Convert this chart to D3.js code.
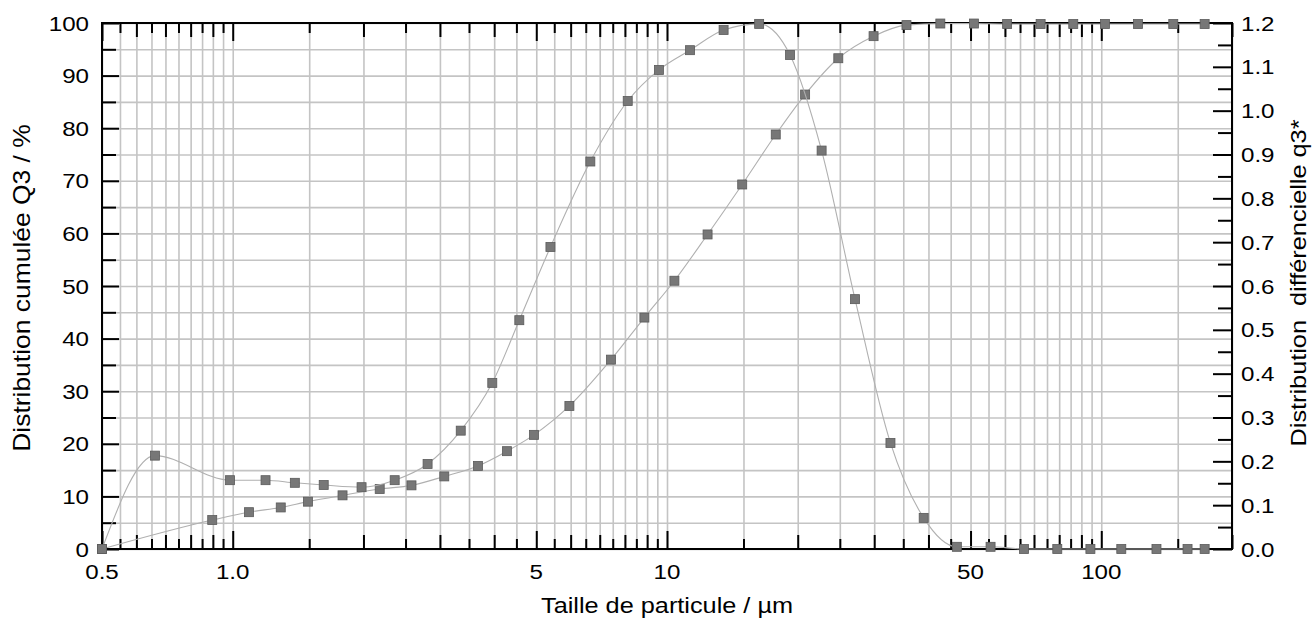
<!DOCTYPE html>
<html>
<head>
<meta charset="utf-8">
<script src="https://cdn.jsdelivr.net/npm/d3@7"></script>
<style>
  html, body { margin: 0; padding: 0; background: #fff; }
  svg { display: block; font-family: "Liberation Sans", Arial, sans-serif; }
</style>
</head>
<body>
<div id="chart"></div>
<script>
/* Particle size distribution — Q3 cumulative + q3* differential, D3 v7 */

// ── Data ────────────────────────────────────────────────────────────────────
var cumSize = [0.5, 0.897, 1.09, 1.29, 1.49, 1.79, 2.18, 2.58, 3.07, 3.67, 4.28, 4.94,
               5.96, 7.43, 8.87, 10.4, 12.4, 14.9, 17.8, 20.8, 24.8, 29.9, 35.6, 42.6,
               50.9, 60.7, 72.5, 86.2, 102, 121.5, 146.5, 173];
var cumQ3   = [0, 5.5, 7.0, 7.9, 9.0, 10.2, 11.4, 12.1, 13.8, 15.8, 18.6, 21.7,
               27.2, 36.0, 44.0, 51.0, 59.8, 69.3, 78.8, 86.4, 93.3, 97.5, 99.6, 99.9,
               99.9, 99.8, 99.8, 99.8, 99.8, 99.8, 99.8, 99.8];

var diffSize = [0.5, 0.662, 0.986, 1.19, 1.39, 1.62, 1.98, 2.36, 2.81, 3.35, 3.96, 4.57,
                5.39, 6.66, 8.12, 9.58, 11.3, 13.5, 16.3, 19.2, 22.7, 27.1, 32.7, 39.0,
                46.5, 55.6, 66.4, 79.2, 94.4, 111.2, 134, 158, 173];
var diffQ3   = [0, 0.213, 0.157, 0.157, 0.151, 0.146, 0.141, 0.157, 0.194, 0.270, 0.379, 0.522,
                0.689, 0.884, 1.022, 1.093, 1.138, 1.184, 1.198, 1.127, 0.909, 0.570, 0.242, 0.071,
                0.005, 0.005, 0, 0, 0, 0, 0, 0, 0];

var xLabelTicks = [0.5, 1, 5, 10, 50, 100];
var xLabelText  = ["0.5", "1.0", "5", "10", "50", "100"];
var yLeftTicks  = [0, 10, 20, 30, 40, 50, 60, 70, 80, 90, 100];
var yRightTicks = [0.0, 0.1, 0.2, 0.3, 0.4, 0.5, 0.6, 0.7, 0.8, 0.9, 1.0, 1.1, 1.2];

var xTitle  = "Taille de particule / µm";
var yLTitle = "Distribution cumulée Q3 / %";
var yRTitle = "Distribution  différencielle q3*";

(function () {
  "use strict";

  var W = 1314, H = 619;
  var margin = { top: 23, right: 82, bottom: 70, left: 102 };
  var iW = W - margin.left - margin.right;
  var iH = H - margin.top - margin.bottom;
  var STRETCH = 1.15;   // reference glyphs are a bit wide

  var svg = d3.select("#chart").append("svg").attr("width", W).attr("height", H);
  var g = svg.append("g").attr("transform", "translate(" + margin.left + "," + margin.top + ")");

  var x  = d3.scaleLog().domain([0.5, 200]).range([0, iW]);
  var yL = d3.scaleLinear().domain([0, 100]).range([iH, 0]);
  var yR = d3.scaleLinear().domain([0, 1.2]).range([iH, 0]);

  // ── Minor x ticks: half steps in every decade ────────────────────────────
  var xAll = [], xHalf = [], xWhole = [], seen = {};
  [0.1, 1, 10, 100].forEach(function (p) {
    for (var j = 2; j <= 20; j++) {
      var v = +(j / 2 * p).toPrecision(6);
      if (v < 0.5 || v > 200 || seen[v]) continue;
      seen[v] = true;
      xAll.push(v);
      if (xLabelTicks.indexOf(v) >= 0) continue;
      (j % 2 === 0 ? xWhole : xHalf).push(v);
    }
  });
  var yMinorL = d3.range(5, 100, 10);
  var yMinorR = d3.range(0.05, 1.2, 0.1);

  // ── Grid ────────────────────────────────────────────────────────────────
  function styleGrid(sel) {
    sel.select(".domain").remove();
    sel.selectAll("line").attr("stroke", "#c4c4c4").attr("stroke-width", 1.6);
  }
  g.append("g").attr("transform", "translate(0," + iH + ")")
    .call(d3.axisBottom(x).tickValues(xAll).tickSize(-iH).tickFormat(""))
    .call(styleGrid);
  g.append("g")
    .call(d3.axisLeft(yL).tickValues(d3.range(0, 101, 5)).tickSize(-iW).tickFormat(""))
    .call(styleGrid);

  // ── Ticks (all inward) ──────────────────────────────────────────────────
  function styleTicks(sel) {
    sel.select(".domain").remove();
    sel.selectAll("line").attr("stroke", "#000").attr("stroke-width", 2);
  }
  [[xHalf, 10], [xWhole, 14], [xLabelTicks, 18]].forEach(function (t) {
    g.append("g").attr("transform", "translate(0," + iH + ")")
      .call(d3.axisBottom(x).tickValues(t[0]).tickSize(-t[1]).tickFormat(""))
      .call(styleTicks);
    g.append("g")
      .call(d3.axisTop(x).tickValues(t[0]).tickSize(-t[1]).tickFormat(""))
      .call(styleTicks);
  });
  g.append("g").call(d3.axisLeft(yL).tickValues(yLeftTicks).tickSize(-17).tickFormat("")).call(styleTicks);
  g.append("g").call(d3.axisLeft(yL).tickValues(yMinorL).tickSize(-14).tickFormat("")).call(styleTicks);
  g.append("g").attr("transform", "translate(" + iW + ",0)")
    .call(d3.axisRight(yR).tickValues(yRightTicks).tickSize(-19).tickFormat("")).call(styleTicks);
  g.append("g").attr("transform", "translate(" + iW + ",0)")
    .call(d3.axisRight(yR).tickValues(yMinorR).tickSize(-14).tickFormat("")).call(styleTicks);

  g.append("rect").attr("width", iW).attr("height", iH)
    .attr("fill", "none").attr("stroke", "#000").attr("stroke-width", 2);

  // ── Tick labels ─────────────────────────────────────────────────────────
  // stretch is applied in glyph space so rotated titles widen along their length
  function stretched(tx, ty, rot) {
    return "translate(" + tx + "," + ty + ")" + (rot ? " rotate(" + rot + ")" : "") +
           " scale(" + STRETCH + ",1)";
  }
  g.selectAll(".xl").data(xLabelTicks).enter().append("text")
    .attr("transform", function (d) { return stretched(x(d), iH + 30); })
    .attr("text-anchor", "middle").style("font-size", "21px").attr("fill", "#000")
    .text(function (d, i) { return xLabelText[i]; });

  g.selectAll(".yl").data(yLeftTicks).enter().append("text")
    .attr("transform", function (d) { return stretched(-13, yL(d) + 7.5); })
    .attr("text-anchor", "end").style("font-size", "21px").attr("fill", "#000")
    .text(function (d) { return d; });

  g.selectAll(".yr").data(yRightTicks).enter().append("text")
    .attr("transform", function (d) { return stretched(iW + 9, yR(d) + 7.5); })
    .attr("text-anchor", "start").style("font-size", "21px").attr("fill", "#000")
    .text(function (d) { return d3.format(".1f")(d); });

  // ── Axis titles ─────────────────────────────────────────────────────────
  g.append("text").attr("transform", stretched(iW / 2, iH + 64))
    .attr("text-anchor", "middle").style("font-size", "22px").text(xTitle);
  g.append("text").attr("transform", stretched(-72, iH / 2 + 2, -90))
    .attr("text-anchor", "middle").style("font-size", "23px").text(yLTitle);
  g.append("text").attr("transform", stretched(iW + 74, iH / 2 - 3, -90))
    .attr("text-anchor", "middle").style("font-size", "22px")
    .style("white-space", "pre").text(yRTitle);

  // ── Curves + markers ────────────────────────────────────────────────────
  var cumData  = cumSize.map(function (s, i) { return { s: s, v: cumQ3[i] }; });
  var diffData = diffSize.map(function (s, i) { return { s: s, v: diffQ3[i] }; });

  function drawSeries(data, ys) {
    g.append("path").datum(data)
      .attr("fill", "none").attr("stroke", "#b0b0b0").attr("stroke-width", 1.1)
      .attr("d", d3.line().curve(d3.curveMonotoneX)
        .x(function (d) { return x(d.s); })
        .y(function (d) { return ys(d.v); }));
    g.append("g").selectAll("rect").data(data).enter().append("rect")
      .attr("x", function (d) { return x(d.s) - 4.5; })
      .attr("y", function (d) { return ys(d.v) - 4.5; })
      .attr("width", 9).attr("height", 9)
      .attr("fill", "#777").attr("stroke", "#5a5a5a").attr("stroke-width", 0.8);
  }
  drawSeries(cumData, yL);
  drawSeries(diffData, yR);
})();
</script>
</body>
</html>
